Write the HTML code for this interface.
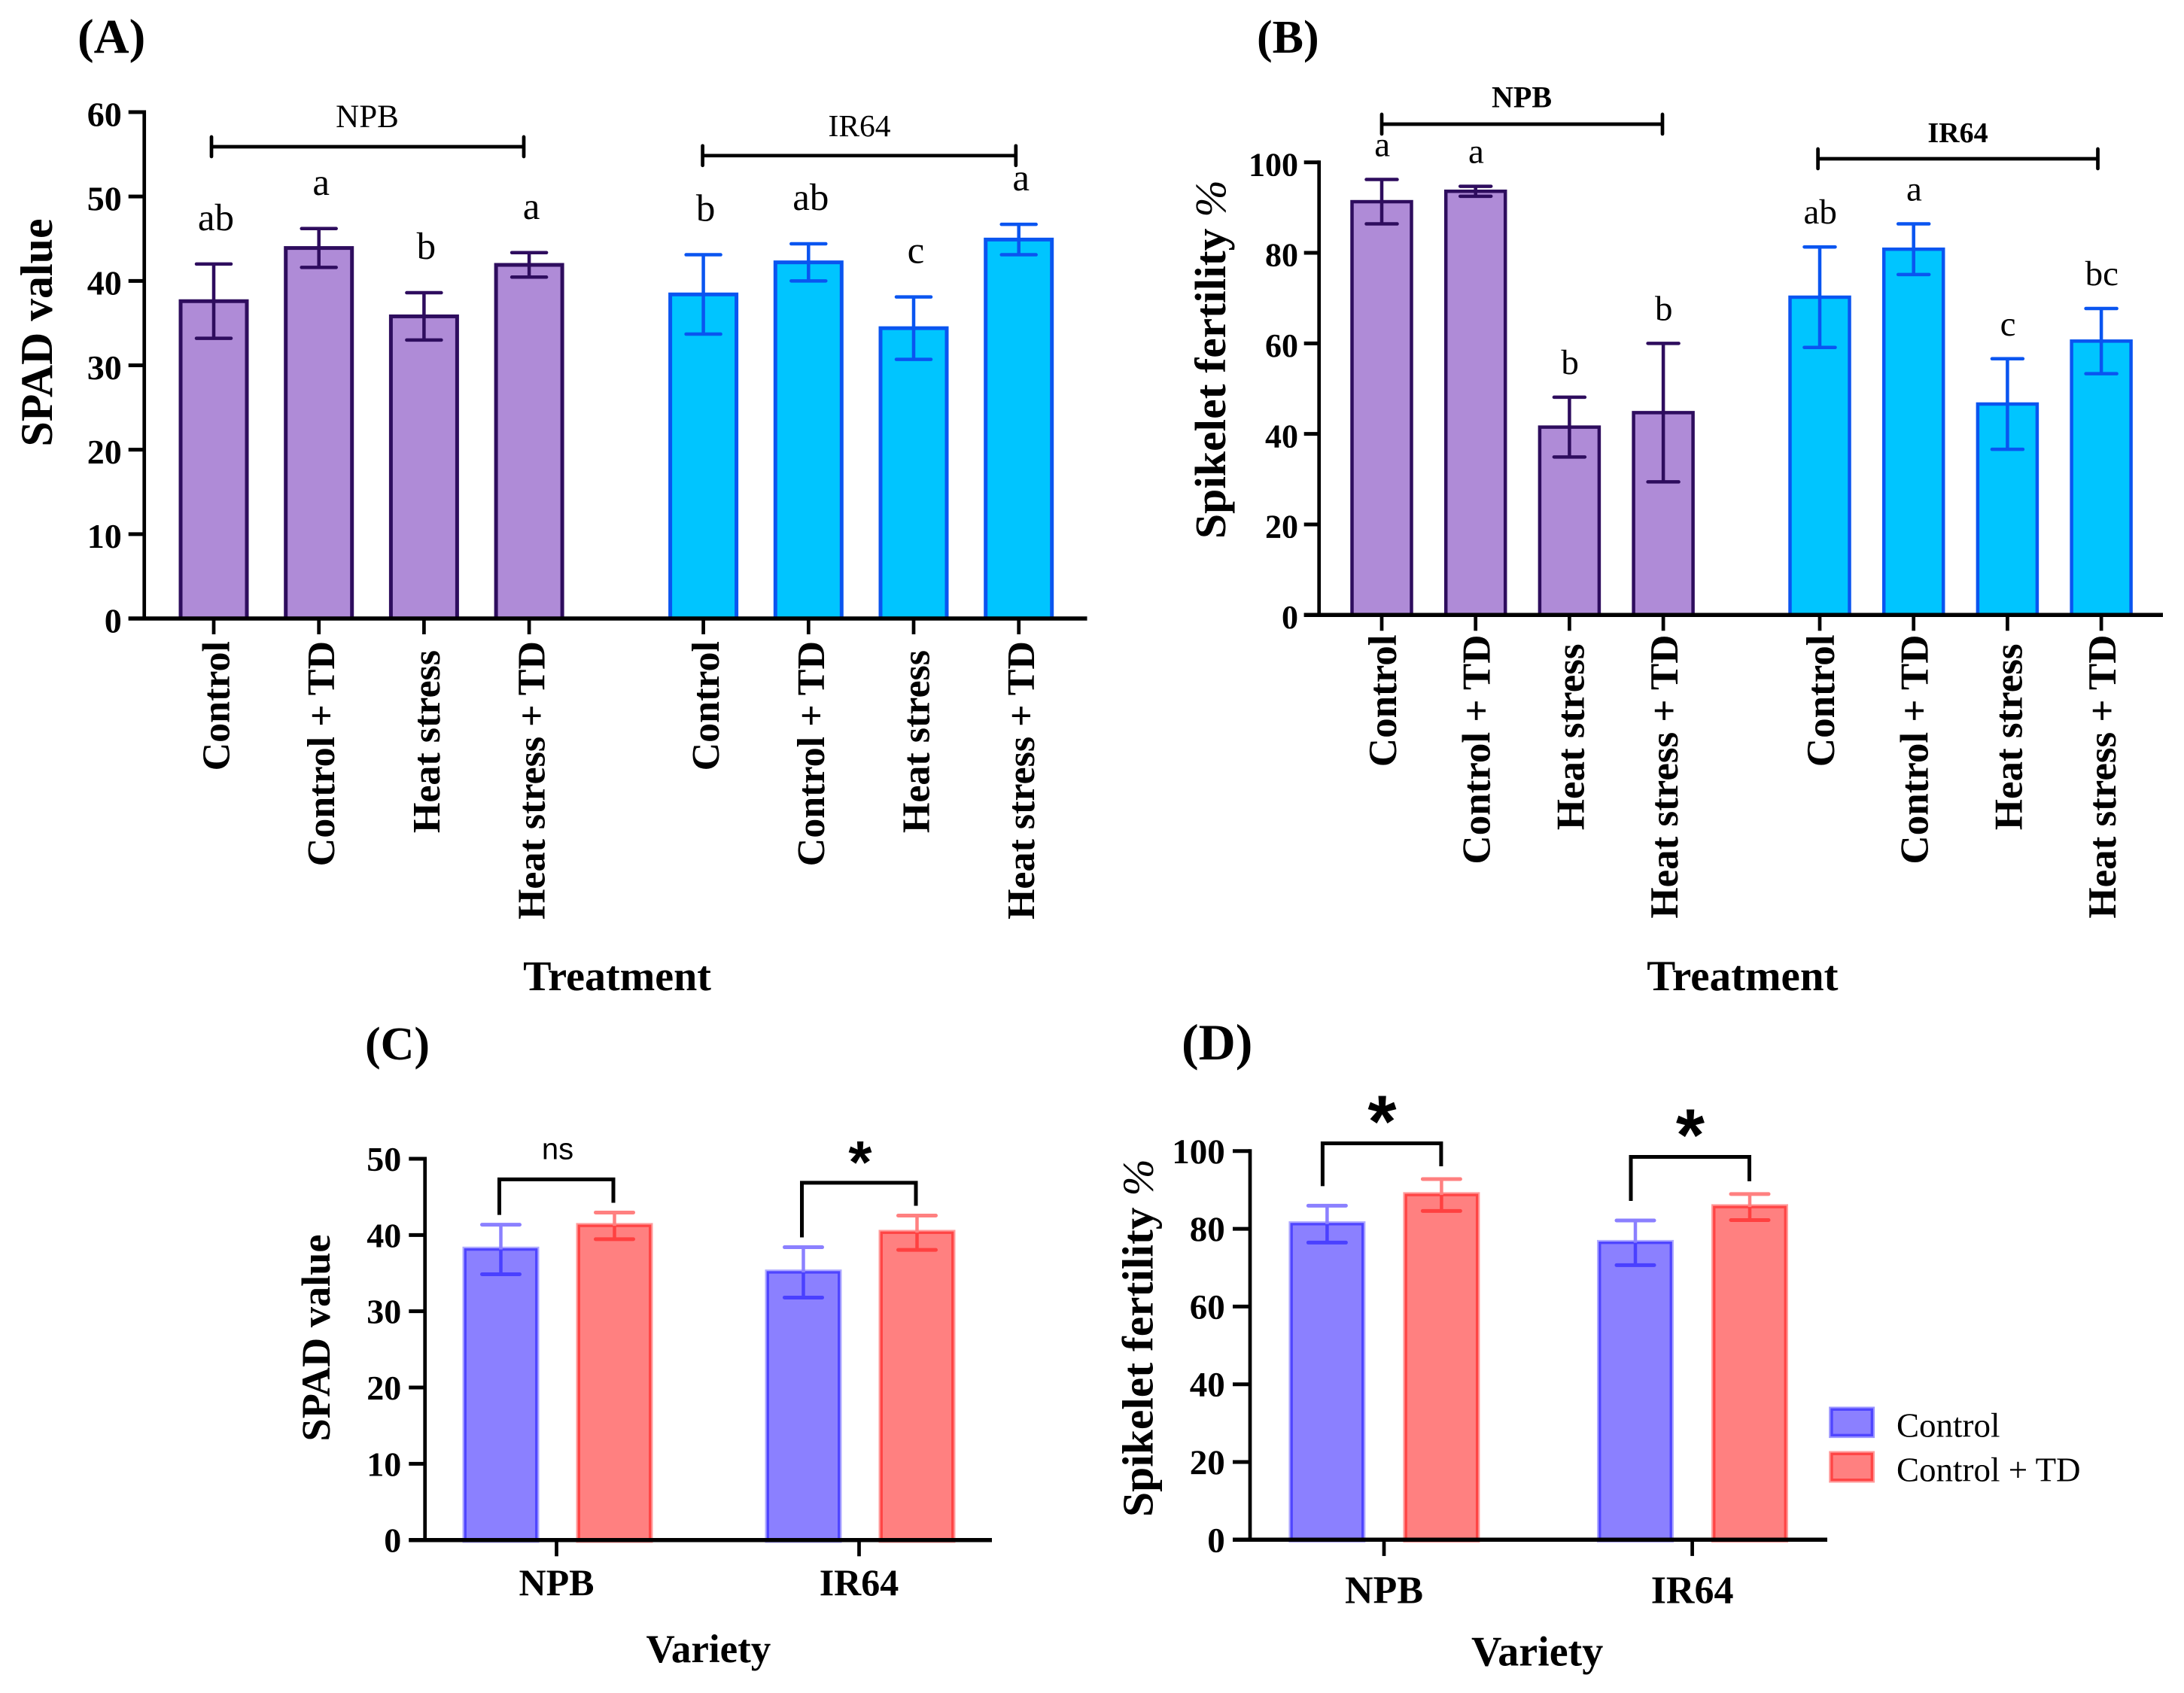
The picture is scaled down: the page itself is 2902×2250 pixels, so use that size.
<!DOCTYPE html>
<html lang="en">
<head>
<meta charset="utf-8">
<title>SPAD value and spikelet fertility charts</title>
<style>
html,body{margin:0;padding:0;background:#fff;}
svg{display:block;font-family:"Liberation Serif",serif;}
text{fill:#000;}
.b{font-weight:bold;}
</style>
</head>
<body>
<svg id="fig" xmlns="http://www.w3.org/2000/svg" width="2902" height="2250" viewBox="0 0 2902 2250">
  <rect x="0" y="0" width="2902" height="2250" fill="#fff"/>

  <text class="b" x="103" y="70" font-size="65">(A)</text>
  <text class="b" x="1670" y="70" font-size="62">(B)</text>
  <text class="b" x="485" y="1408" font-size="62">(C)</text>
  <text class="b" x="1570" y="1408" font-size="68">(D)</text>

  <text class="b" transform="translate(69,442) rotate(-90)" text-anchor="middle" font-size="60" textLength="303" lengthAdjust="spacingAndGlyphs">SPAD value</text>
  <text class="b" transform="translate(1628,477.5) rotate(-90)" text-anchor="middle" font-size="58" textLength="477" lengthAdjust="spacingAndGlyphs">Spikelet fertility <tspan font-style="italic" font-weight="normal">%</tspan></text>
  <text class="b" transform="translate(438,1778) rotate(-90)" text-anchor="middle" font-size="54" textLength="275" lengthAdjust="spacingAndGlyphs">SPAD value</text>
  <text class="b" transform="translate(1531.5,1778) rotate(-90)" text-anchor="middle" font-size="58" textLength="476" lengthAdjust="spacingAndGlyphs">Spikelet fertility <tspan font-style="italic" font-weight="normal">%</tspan></text>

  <text class="b" x="820" y="1316" text-anchor="middle" font-size="56">Treatment</text>
  <text class="b" x="2315.4" y="1316" text-anchor="middle" font-size="57">Treatment</text>
  <text class="b" x="941.4" y="2209" text-anchor="middle" font-size="53">Variety</text>
  <text class="b" x="2042.6" y="2213.5" text-anchor="middle" font-size="56">Variety</text>

  <g>
    <rect x="2434" y="1873.3" width="53.3" height="34" fill="none" stroke="#9B95FF" stroke-width="7.6"/>
    <rect x="2434" y="1873.3" width="53.3" height="34" fill="#8B80FF" stroke="#4F45FF" stroke-width="3.3"/>
    <text x="2520" y="1909.3" font-size="45">Control</text>
    <rect x="2434" y="1932.3" width="53.3" height="34.4" fill="none" stroke="#FF9C9C" stroke-width="7.6"/>
    <rect x="2434" y="1932.3" width="53.3" height="34.4" fill="#FF8080" stroke="#FF4545" stroke-width="3.3"/>
    <text x="2520" y="1968.3" font-size="45">Control + TD</text>
  </g>
  <g id="marks"></g>
</svg>
<script>
// Panel A
const aTreatments = ["Control", "Control + TD", "Heat stress", "Heat stress + TD"];
const aGroups = ["NPB", "IR64"];
const aValues = [37.6, 43.9, 35.8, 41.9, 38.4, 42.2, 34.4, 44.9];
const aErrors = [4.4, 2.3, 2.8, 1.45, 4.7, 2.2, 3.7, 1.8];
const aLetters = ["ab", "a", "b", "a", "b", "ab", "c", "a"];
const aTicks = [0, 10, 20, 30, 40, 50, 60];
// Panel B
const bTreatments = ["Control", "Control + TD", "Heat stress", "Heat stress + TD"];
const bGroups = ["NPB", "IR64"];
const bValues = [91.3, 93.6, 41.5, 44.7, 70.2, 80.8, 46.6, 60.5];
const bErrors = [4.9, 1.1, 6.6, 15.3, 11.1, 5.6, 10, 7.2];
const bLetters = ["a", "a", "b", "b", "ab", "a", "c", "bc"];
const bTicks = [0, 20, 40, 60, 80, 100];
// Panel C
const cVarieties = ["NPB", "IR64"];
const cControl = [38.1, 35.1];
const cControlErr = [3.25, 3.3];
const cTd = [41.2, 40.3];
const cTdErr = [1.75, 2.25];
const cSignificance = ["ns", "*"];
const cBracketLevels = [47.3, 46.85];
const cTicks = [0, 10, 20, 30, 40, 50];
// Panel D
const dVarieties = ["NPB", "IR64"];
const dControl = [81.2, 76.4];
const dControlErr = [4.75, 5.75];
const dTd = [88.7, 85.6];
const dTdErr = [4.1, 3.35];
const dSignificance = ["*", "*"];
const dBracketLevels = [102, 98.5];
const dTicks = [0, 20, 40, 60, 80, 100];

const NS = "http://www.w3.org/2000/svg";
const root = document.getElementById("marks");
function mk(tag, attrs, txt) {
  const el = document.createElementNS(NS, tag);
  for (const k in attrs) el.setAttribute(k, attrs[k]);
  if (txt !== undefined) el.textContent = txt;
  root.appendChild(el);
  return el;
}
function line(x1, y1, x2, y2, color, w, round) {
  const el = mk("line", {x1: x1, y1: y1, x2: x2, y2: y2, stroke: color, "stroke-width": w});
  if (round) el.setAttribute("stroke-linecap", "round");
  return el;
}

function drawYAxis(p, ticks, yOf) {
  const ax = line(p.axisX, yOf(ticks[ticks.length - 1]) - 2.5, p.axisX, p.y0, "#000", 4.7);
  
  
  ticks.forEach(function (t) {
    const tk = line(p.axisX - p.tickLen, yOf(t), p.axisX, yOf(t), "#000", 5);
    
    
    const lb = mk("text", {x: p.labelRight, y: yOf(t) + p.tickDy, "text-anchor": "end", "font-size": p.tickFont, class: "b"}, String(t));
    
    
  });
}
function drawXAxisLine(p) {
  const ax = line(p.axisX - p.tickLen, p.y0, p.xEnd, p.y0, "#000", 5.5);
  
  
}

function drawTreatmentPanel(p, treatments, groups, values, errors, letters, ticks) {
  const yOf = function (v) { return p.y0 - (v / p.max) * (p.y0 - p.yTop); };
  const xOf = function (i) { return (i < 4 ? p.start1 : p.start2) + p.step * (i % 4); };
  values.forEach(function (v, i) {
    const cx = xOf(i);
    const fill = i < 4 ? p.fill1 : p.fill2;
    const stroke = i < 4 ? p.stroke1 : p.stroke2;
    const bar = mk("rect", {x: cx - p.barW / 2, y: yOf(v), width: p.barW, height: p.y0 - yOf(v), fill: fill, stroke: stroke, "stroke-width": p.barStroke});
    
    
    const up = yOf(v + errors[i]);
    const lo = yOf(v - errors[i]);
    const stem = line(cx, up, cx, lo, stroke, 4.5);
    
    
    const capT = line(cx - p.cap, up, cx + p.cap, up, stroke, 4.5, true);
    
    
    const capB = line(cx - p.cap, lo, cx + p.cap, lo, stroke, 4.5, true);
    
    
    const lt = mk("text", {x: cx + p.letterDx, y: up - p.letterGap, "text-anchor": "middle", "font-size": p.letterFont}, letters[i]);
    
    
    const tk = line(cx, p.y0, cx, p.y0 + 21, "#000", 4.7);
    
    
    const name = treatments[i % 4];
    const endY = name === "Heat stress" ? p.labelTop + 12 : p.labelTop;
    const xl = mk("text", {transform: "translate(" + (cx + p.labelDx) + "," + endY + ") rotate(-90)", "text-anchor": "end", "font-size": p.labelFont, class: "b"}, name);
    
    
  });
  groups.forEach(function (g, gi) {
    const br = p.brackets[gi];
    const h = line(br.x1, br.y, br.x2, br.y, "#000", 4.7);
    
    
    const l = line(br.x1, br.y - 13, br.x1, br.y + 13, "#000", 4.7, true);
    
    
    const r = line(br.x2, br.y - 13, br.x2, br.y + 13, "#000", 4.7, true);
    
    
    const t = mk("text", {x: br.tx, y: br.ty, "text-anchor": "middle", "font-size": br.fs, class: p.groupBold ? "b" : ""}, g);
    
    
  });
  drawYAxis(p, ticks, yOf);
  drawXAxisLine(p);
}

function drawVarietyPanel(p, varieties, ctrl, ctrlErr, td, tdErr, sig, levels, ticks) {
  const yOf = function (v) { return p.y0 - (v / p.max) * (p.y0 - p.yTop); };
  const xOf = function (i) { return p.groupX[0] + (p.groupX[1] - p.groupX[0]) * i; };
  function drawBar(cx, v, e, fill, ringColor, dark, lightErr, darkErr, label) {
    const ring = mk("rect", {x: cx - p.barW / 2, y: yOf(v), width: p.barW, height: p.y0 - yOf(v), fill: "none", stroke: ringColor, "stroke-width": 7.6});
    
    
    const bar = mk("rect", {x: cx - p.barW / 2, y: yOf(v), width: p.barW, height: p.y0 - yOf(v), fill: fill, stroke: dark, "stroke-width": 3.3});
    
    
    const up = yOf(v + e);
    const lo = yOf(v - e);
    const s1 = line(cx, up, cx, yOf(v), lightErr, 4.5);
    
    
    const s2 = line(cx, yOf(v), cx, lo, darkErr, 4.5);
    
    
    const c1 = line(cx - p.cap, up, cx + p.cap, up, lightErr, 5, true);
    
    
    const c2 = line(cx - p.cap, lo, cx + p.cap, lo, darkErr, 5, true);
    
    
  }
  varieties.forEach(function (name, i) {
    const gx = xOf(i);
    const x1 = gx - p.offset;
    const x2 = gx + p.offset;
    drawBar(x1, ctrl[i], ctrlErr[i], "#8B80FF", "#AFAAFF", "#4F45FF", "#8B80FF", "#4A40FF", name + "-control");
    drawBar(x2, td[i], tdErr[i], "#FF8080", "#FF9C9C", "#FF4545", "#FF8080", "#FF4040", name + "-td");
    const tx = gx + p.tickDx;
    const tk = line(tx, p.y0, tx, p.y0 + 21.6, "#000", 4.7);
    
    
    const lb = mk("text", {x: tx, y: p.labelY, "text-anchor": "middle", "font-size": p.labelFont, class: "b"}, name);
    
    
    const top = yOf(levels[i]);
    const leftEnd = yOf(ctrl[i] + ctrlErr[i]) - p.gapL;
    const rightEnd = yOf(td[i] + tdErr[i]) - p.gapR;
    const br = mk("path", {d: "M" + (x1 + p.bracketDxL) + " " + leftEnd + "V" + top + "H" + (x2 + p.bracketDxR) + "V" + rightEnd, fill: "none", stroke: "#000", "stroke-width": 5});
    
    
    const isStar = sig[i] === "*";
    const st = mk("text", {x: gx + p.starDx, y: isStar ? top - p.starAbove + 0.45 * p.starFont : top - 27, "text-anchor": "middle", "font-size": isStar ? p.starFont : 40, "font-weight": isStar ? "bold" : "normal", style: 'font-family:"Liberation Sans",sans-serif'}, sig[i]);
    
    
  });
  drawYAxis(p, ticks, yOf);
  drawXAxisLine(p);
}

drawTreatmentPanel({
  id: "a", y0: 822, yTop: 149, max: 60, axisX: 191.7, xEnd: 1444.5, tickLen: 21, labelRight: 161.7, tickFont: 46, tickDy: 18.4,
  start1: 284, start2: 934.6, step: 139.7, barW: 88, barStroke: 5, cap: 23,
  fill1: "#AF8BD7", stroke1: "#2E0D5E", fill2: "#00C5FF", stroke2: "#0A55F0",
  letterDx: 3, letterGap: 45, letterFont: 51, labelDx: 20.5, labelTop: 852, labelFont: 52,
  groupBold: false,
  brackets: [{x1: 281, x2: 696, y: 195, tx: 488, ty: 169, fs: 43}, {x1: 933.6, x2: 1349.8, y: 206.8, tx: 1142, ty: 181, fs: 41.5}]
}, aTreatments, aGroups, aValues, aErrors, aLetters, aTicks);

drawTreatmentPanel({
  id: "b", y0: 817.3, yTop: 215.7, max: 100, axisX: 1752.7, xEnd: 2874, tickLen: 20, labelRight: 1725, tickFont: 44, tickDy: 17.6,
  start1: 1836, start2: 2418, step: 124.7, barW: 79, barStroke: 4.5, cap: 20.5,
  fill1: "#AF8BD7", stroke1: "#2E0D5E", fill2: "#00C5FF", stroke2: "#0A55F0",
  letterDx: 0.7, letterGap: 31, letterFont: 47, labelDx: 19, labelTop: 843.5, labelFont: 53,
  groupBold: true,
  brackets: [{x1: 1836, x2: 2209, y: 165, tx: 2022, ty: 142.7, fs: 40}, {x1: 2415.6, x2: 2787.5, y: 211, tx: 2601.5, ty: 189, fs: 38}]
}, bTreatments, bGroups, bValues, bErrors, bLetters, bTicks);

drawVarietyPanel({
  id: "c", y0: 2046.7, yTop: 1540, max: 50, axisX: 564.7, xEnd: 1318, tickLen: 21.4, labelRight: 533.3, tickFont: 46, tickDy: 16,
  groupX: [741, 1143], offset: 75.5, barW: 94.4, cap: 25, gapL: 13, gapR: 13, tickDx: -1.5,
  bracketDxL: -2, bracketDxR: -1.5, starDx: 0, starFont: 80, starAbove: 36,
  labelY: 2120, labelFont: 50
}, cVarieties, cControl, cControlErr, cTd, cTdErr, cSignificance, cBracketLevels, cTicks);

drawVarietyPanel({
  id: "d", y0: 2046.3, yTop: 1529.8, max: 100, axisX: 1661, xEnd: 2428, tickLen: 23, labelRight: 1627.8, tickFont: 47, tickDy: 16,
  groupX: [1839.4, 2249], offset: 76, barW: 94.4, cap: 25, gapL: 26, gapR: 17, tickDx: -0.4,
  bracketDxL: -6, bracketDxR: -0.5, starDx: -3, starFont: 98, starAbove: 39,
  labelY: 2130.5, labelFont: 52
}, dVarieties, dControl, dControlErr, dTd, dTdErr, dSignificance, dBracketLevels, dTicks);
</script>
</body>
</html>
